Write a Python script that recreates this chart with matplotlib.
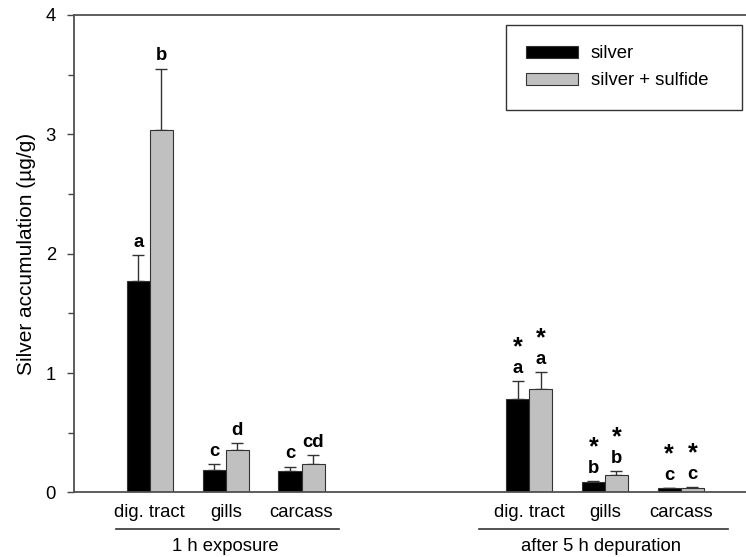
import numpy as np
import matplotlib
matplotlib.use("Agg")
import matplotlib.pyplot as plt
from matplotlib.patches import Patch

plt.rcParams['font.family'] = ['Liberation Sans', 'DejaVu Sans']

# data
tissues = ["dig. tract", "gills", "carcass", "dig. tract", "gills", "carcass"]
positions = [0, 1, 2, 5, 6, 7]
groups = ["1 h exposure", "after 5 h depuration"]

silver = [1.77, 0.19, 0.18, 0.78, 0.09, 0.035]
silver_err = [0.22, 0.045, 0.035, 0.155, 0.005, 0.004]
sulfide = [3.04, 0.355, 0.235, 0.87, 0.145, 0.04]
sulfide_err = [0.51, 0.06, 0.08, 0.14, 0.035, 0.006]

silver_letters = ["a", "c", "c", "a", "b", "c"]
sulfide_letters = ["b", "d", "cd", "a", "b", "c"]
silver_star = [False, False, False, True, True, True]
sulfide_star = [False, False, False, True, True, True]

fig = plt.figure(figsize=(7.46, 5.57), dpi=100)
ax = fig.add_axes([0.0992, 0.1158, 0.9008, 0.8573])

w = 0.305
x = np.array(positions, dtype=float)
grey = "#c0c0c0"
edge = "#333333"
fs = 13.3

ax.bar(x - w/2, silver, w, color="black", edgecolor=edge, linewidth=0.8, zorder=2)
ax.bar(x + w/2, sulfide, w, color=grey, edgecolor=edge, linewidth=0.8, zorder=2)

ax.errorbar(x - w/2, silver, yerr=[np.zeros(len(silver)), silver_err], fmt="none",
            ecolor="#333333", elinewidth=1, capsize=4.5, capthick=1, zorder=1)
ax.errorbar(x + w/2, sulfide, yerr=[np.zeros(len(sulfide)), sulfide_err], fmt="none",
            ecolor="#333333", elinewidth=1, capsize=4.5, capthick=1, zorder=1)

# letters and asterisks above bars
for xs, vals, errs, letters, stars in [(x - w/2, silver, silver_err, silver_letters, silver_star),
                                       (x + w/2, sulfide, sulfide_err, sulfide_letters, sulfide_star)]:
    for i in range(len(xs)):
        top = vals[i] + errs[i]
        ax.annotate(letters[i], xy=(xs[i], top), xytext=(0, 6), textcoords="offset points",
                    ha="center", va="baseline", fontsize=fs, fontweight="bold")
        if stars[i]:
            ax.annotate("*", xy=(xs[i], top), xytext=(0, 19), textcoords="offset points",
                        ha="center", va="baseline", fontsize=18, fontweight="bold")

ax.set_xlim(-1.0, 7.86)
ax.set_ylim(0, 4)

ax.set_yticks([0, 1, 2, 3, 4])
ax.set_yticks([0.5, 1.5, 2.5, 3.5], minor=True)
ax.tick_params(axis="y", which="major", length=5, width=1, color="#444444", pad=8, labelsize=fs)
ax.tick_params(axis="y", which="minor", length=4, width=1, color="#444444")
ax.set_xticks(positions, tissues)
ax.tick_params(axis="x", length=0, pad=8, labelsize=fs)

ax.set_ylabel("Silver accumulation (µg/g)", fontsize=15, labelpad=7)

for s in ["left", "top", "bottom"]:
    ax.spines[s].set_color("#505050")
    ax.spines[s].set_linewidth(1.3)
ax.spines["right"].set_visible(False)

# group lines below the tissue labels
trans = ax.get_xaxis_transform()
group_lines = [(-0.45, 2.49), (4.34, 7.62)]
for (a, b), name in zip(group_lines, groups):
    ax.plot([a, b], [-0.0764, -0.0764], color="#333333", linewidth=1.2,
            transform=trans, clip_on=False)
    ax.text((a + b) / 2 - 0.03, -0.113, name, transform=trans, ha="center", va="center",
            fontsize=fs)

handles = [Patch(facecolor="black", edgecolor=edge, linewidth=0.8, label="silver"),
           Patch(facecolor=grey, edgecolor=edge, linewidth=0.8, label="silver + sulfide")]
leg = ax.legend(handles=handles, loc="upper left", mode="expand",
                bbox_to_anchor=(506/746, 1 - 106/557, 236/746, 81/557),
                bbox_transform=fig.transFigure, borderaxespad=0, fontsize=fs,
                handlelength=2.8, handleheight=0.66, handletextpad=0.7,
                labelspacing=0.55, borderpad=1.1, fancybox=False, framealpha=1)
leg.get_frame().set_edgecolor("#333333")
leg.get_frame().set_linewidth(1.0)

fig.savefig("out.png", dpi=100)
